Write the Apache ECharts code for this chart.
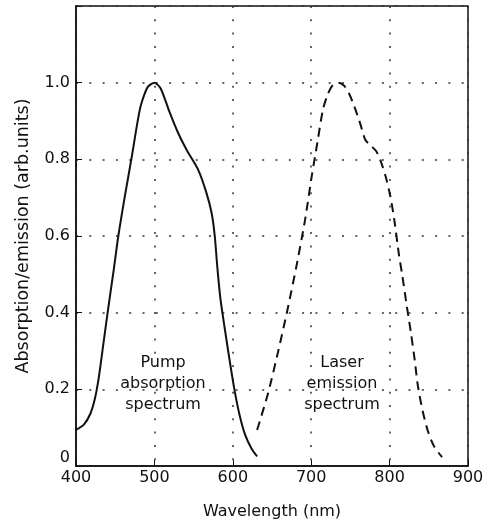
<!DOCTYPE html>
<html>
<head>
<meta charset="utf-8">
<script src="https://cdn.jsdelivr.net/npm/echarts@6/dist/echarts.min.js"></script>
<style>
  html, body { margin: 0; padding: 0; background: #fff; }
  #chart { width: 483px; height: 527px; }
</style>
</head>
<body>
<div id="chart"></div>
<script>
// Absorción de bombeo (línea continua) y emisión láser (discontinua)
const pumpWavelength = [400, 410, 418, 424, 429, 435, 441, 448, 454, 462, 471, 477, 482, 487, 492, 500, 508, 519, 530, 541, 556, 566, 573, 577, 580, 584, 590, 596, 602, 609, 616, 624, 631];
const pumpValue      = [0.094, 0.108, 0.135, 0.175, 0.23, 0.32, 0.41, 0.51, 0.60, 0.70, 0.805, 0.88, 0.935, 0.968, 0.99, 1.0, 0.985, 0.925, 0.87, 0.825, 0.772, 0.715, 0.66, 0.60, 0.525, 0.44, 0.355, 0.275, 0.20, 0.13, 0.08, 0.045, 0.025];

const laserWavelength = [631, 645, 658, 670, 682, 692, 701, 708, 715, 721, 727, 735, 742, 748, 755, 763, 769, 776, 783, 788, 795, 801, 806, 812, 816, 821, 827, 832, 836, 842, 849, 857, 867];
const laserValue      = [0.094, 0.19, 0.30, 0.41, 0.53, 0.64, 0.76, 0.845, 0.93, 0.969, 0.992, 1.0, 0.992, 0.973, 0.938, 0.89, 0.851, 0.836, 0.821, 0.799, 0.755, 0.703, 0.642, 0.55, 0.50, 0.43, 0.35, 0.277, 0.21, 0.145, 0.09, 0.05, 0.023];

const xTicks = [400, 500, 600, 700, 800, 900];
const yTicks = [0, 0.2, 0.4, 0.6, 0.8, 1.0];

const FONT = 'DejaVu Sans';
const INK = '#111';
const DOTS = { color: '#333', type: [2, 11.3], width: 1.5 };
const zip = (xs, ys) => xs.map((x, i) => [x, ys[i]]);

const chart = echarts.init(document.getElementById('chart'));

chart.setOption({
  animation: false,
  backgroundColor: '#fff',
  grid: {
    left: 76, right: 15, top: 6, bottom: 61,
    outerBoundsMode: 'none',
    show: true, borderColor: INK, borderWidth: 1.5,
  },
  xAxis: {
    type: 'value',
    min: 400,
    max: 900,
    interval: 100,
    name: 'Wavelength (nm)',
    nameLocation: 'middle',
    nameGap: 38,
    nameTextStyle: { fontFamily: FONT, fontSize: 16, color: INK },
    axisLine: { lineStyle: { color: INK, width: 1.5 } },
    axisTick: { inside: true, length: 6, lineStyle: { color: INK } },
    axisLabel: {
      fontFamily: FONT, fontSize: 16, color: INK, margin: 4,
      formatter: (v) => (xTicks.includes(v) ? String(v) : ''),
    },
    splitLine: { show: true, lineStyle: DOTS },
  },
  yAxis: {
    type: 'value',
    min: 0,
    max: 1.2,
    interval: 0.2,
    name: 'Absorption/emission (arb.units)',
    nameLocation: 'middle',
    nameGap: 44,
    nameTextStyle: { fontFamily: FONT, fontSize: 17.5, color: INK },
    axisLine: { lineStyle: { color: INK, width: 1.5 } },
    axisTick: { inside: true, length: 6, lineStyle: { color: INK } },
    axisLabel: {
      fontFamily: FONT, fontSize: 16, color: INK, margin: 6,
      formatter: (v) => {
        const t = yTicks.find((y) => Math.abs(y - v) < 1e-6);
        if (t === undefined) return '';
        return t === 0 ? '{z|0}' : t.toFixed(1);
      },
      rich: { z: { fontFamily: FONT, fontSize: 16, color: INK, padding: [0, 0, 16, 0] } },
    },
    splitLine: { show: true, lineStyle: DOTS },
  },
  series: [
    {
      name: 'Pump absorption spectrum',
      type: 'line',
      smooth: 0.25,
      symbol: 'none',
      lineStyle: { color: INK, width: 2 },
      data: zip(pumpWavelength, pumpValue),
    },
    {
      name: 'Laser emission spectrum',
      type: 'line',
      smooth: 0.25,
      symbol: 'none',
      lineStyle: { color: INK, width: 2, type: [9, 6] },
      data: zip(laserWavelength, laserValue),
    },
  ],
  graphic: [
    {
      type: 'text', x: 163, y: 352,
      style: {
        text: 'Pump\nabsorption\nspectrum', fontFamily: FONT, fontSize: 16, fill: INK,
        align: 'center', verticalAlign: 'top', lineHeight: 21,
      },
    },
    {
      type: 'text', x: 342, y: 352,
      style: {
        text: 'Laser\nemission\nspectrum', fontFamily: FONT, fontSize: 16, fill: INK,
        align: 'center', verticalAlign: 'top', lineHeight: 21,
      },
    },
  ],
});
</script>
</body>
</html>
